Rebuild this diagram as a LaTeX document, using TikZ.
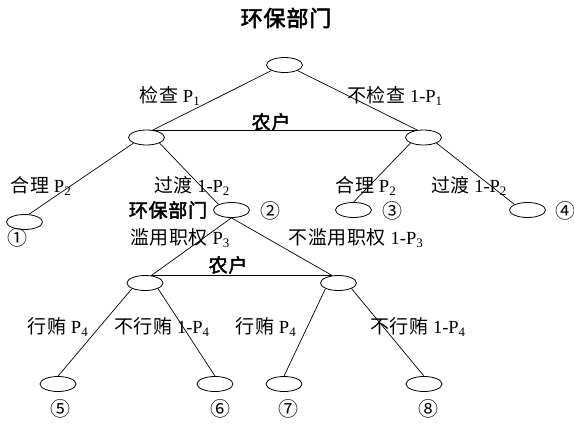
\documentclass[tikz,border=0pt]{standalone}
\usepackage{fontspec}
\usetikzlibrary{shapes.geometric}
\setmainfont{Liberation Serif}
\newfontfamily\cjk[LetterSpace=3]{Noto Sans CJK SC}
\newfontfamily\cjkb[FakeBold=2.5,LetterSpace=4]{Noto Sans CJK SC}
\newfontfamily\cjkn{Noto Sans CJK SC}
\newcommand\zh[1]{{\fontsize{19}{21}\selectfont\cjk #1}}
\begin{document}
\begin{tikzpicture}[x=1pt,y=-1pt,
  el/.style={draw, ellipse, minimum width=36pt, minimum height=15pt, inner sep=0pt, line width=0.8pt},
  lbl/.style={inner sep=0pt, font=\fontsize{18.5}{20}\selectfont},
  bold/.style={inner sep=0pt, font=\fontsize{19}{21}\selectfont\cjkb},
  num/.style={inner sep=0pt, font=\fontsize{20}{22}\selectfont\cjkn},
  edge/.style={line width=0.7pt}]
\useasboundingbox (0,0) rectangle (574,424);
% title
\node[bold, font=\fontsize{22}{24}\selectfont\cjkb] (title) at (286,18) {环保部门};
% nodes
\node[el] (root) at (284.5,65) {};
\node[el] (L) at (146.5,137.5) {};
\node[el] (R) at (423.5,137.5) {};
\node[el] (n1) at (24.5,222) {};
\node[el] (n2) at (231.5,210) {};
\node[el] (n3) at (353.5,210) {};
\node[el] (n4) at (527.5,210) {};
\node[el] (c1) at (145,283) {};
\node[el] (c2) at (338.5,283) {};
\node[el] (n5) at (58,384) {};
\node[el] (n6) at (215,384) {};
\node[el] (n7) at (284,384) {};
\node[el] (n8) at (424,384) {};
% edges
\draw[edge] (root.south west) -- (L.50);
\draw[edge] (root.south east) -- (R.130);
\draw[edge] (L.50) -- (R.130);
\draw[edge] (L.south west) -- (n1.60);
\draw[edge] (L.south east) -- (n2.north west);
\draw[edge] (R.south west) -- (n3.north);
\draw[edge] (R.south east) -- (n4.north west);
\draw[edge] (n2.south) -- (c1.50);
\draw[edge] (n2.south) -- (c2.130);
\draw[edge] (c1.50) -- (c2.130);
\draw[edge] (c1.south west) -- (n5.north);
\draw[edge] (c1.south east) -- (n6.north);
\draw[edge] (c2.south west) -- (n7.north);
\draw[edge] (c2.south east) -- (n8.north);
% labels
\node[lbl] (l1) at (170,96) {\zh{检查} P\textsubscript{1}};
\node[lbl] (l2) at (395,96) {\zh{不检查} 1-P\textsubscript{1}};
\node[bold] (f1) at (271,122) {农户};
\node[lbl] (l3) at (41,186) {\zh{合理} P\textsubscript{2}};
\node[lbl] (l4) at (192,186) {\zh{过渡} 1-P\textsubscript{2}};
\node[lbl] (l5) at (366,186) {\zh{合理} P\textsubscript{2}};
\node[lbl] (l6) at (469,186) {\zh{过渡} 1-P\textsubscript{2}};
\node[bold] (h2) at (168,210) {环保部门};
\node[lbl] (l7) at (180,238) {\zh{滥用职权} P\textsubscript{3}};
\node[lbl] (l8) at (356,238) {\zh{不滥用职权} 1-P\textsubscript{3}};
\node[bold] (f2) at (228,265) {农户};
\node[lbl] (l9) at (58,327) {\zh{行贿} P\textsubscript{4}};
\node[lbl] (l10) at (162,327) {\zh{不行贿} 1-P\textsubscript{4}};
\node[lbl] (l11) at (266,327) {\zh{行贿} P\textsubscript{4}};
\node[lbl] (l12) at (418,327) {\zh{不行贿} 1-P\textsubscript{4}};
% circled numbers
\node[num] (k1) at (17,238) {①};
\node[num] (k2) at (270,211) {②};
\node[num] (k3) at (392,211) {③};
\node[num] (k4) at (565,211) {④};
\node[num] (k5) at (60,409) {⑤};
\node[num] (k6) at (220,409) {⑥};
\node[num] (k7) at (288,409) {⑦};
\node[num] (k8) at (428,409) {⑧};
\end{tikzpicture}
\end{document}
